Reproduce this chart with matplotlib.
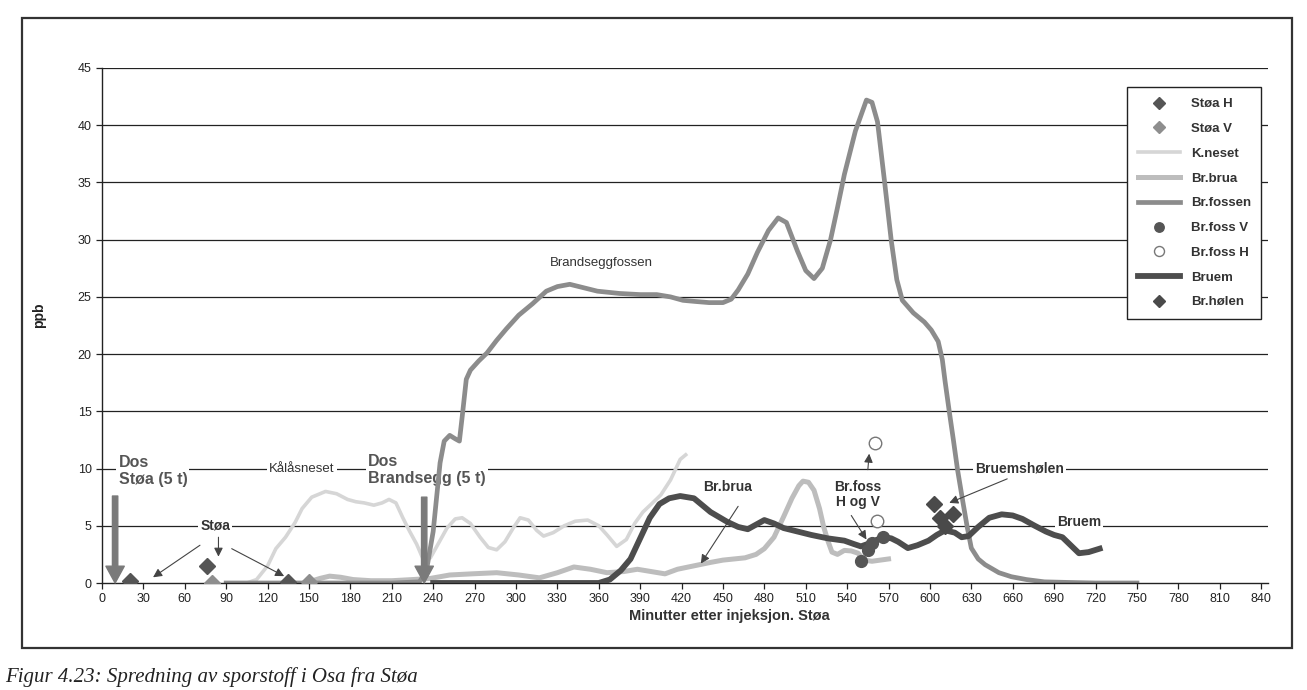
import matplotlib
matplotlib.use("Agg")
import matplotlib.pyplot as plt
from matplotlib.patches import Rectangle

plt.rcParams['font.family'] = ['Liberation Sans', 'DejaVu Sans']

# Tracer concentrations (ppb) against minutes after injection at Støa
stoa_h_t = [20, 76, 135]
stoa_h_ppb = [0.2, 1.5, 0.1]
stoa_v_t = [80, 150]
stoa_v_ppb = [0.0, 0.1]

kneset_t = [105, 112, 120, 126, 133, 140, 145, 152, 162, 170, 178, 184, 190, 197,
            203, 208, 213, 218, 223, 228, 233, 238, 244, 250, 256, 261, 267, 274,
            280, 286, 292, 298, 303, 309, 315, 320, 327, 335, 343, 352, 360, 366,
            373, 380, 386, 392, 399, 405, 412, 419, 423]
kneset_ppb = [0, 0.3, 1.5, 3.0, 4.0, 5.3, 6.5, 7.5, 8.0, 7.8, 7.3, 7.1, 7.0, 6.8,
              7.0, 7.3, 7.0, 5.7, 4.5, 3.4, 2.0, 2.2, 3.5, 4.8, 5.6, 5.7, 5.2, 4.0,
              3.1, 2.9, 3.6, 4.8, 5.7, 5.5, 4.6, 4.1, 4.4, 5.0, 5.4, 5.5, 5.0, 4.2,
              3.2, 3.8, 5.2, 6.2, 7.0, 7.7, 9.0, 10.8, 11.2]

brua_t = [150, 158, 165, 173, 182, 195, 210, 225, 238, 252, 268, 286, 302, 317,
          330, 342, 354, 366, 378, 388, 398, 408, 417, 429, 441, 450, 458, 466,
          474, 480, 487, 494, 500, 505, 508, 512, 516, 520, 523, 526, 529, 533,
          538, 543, 548, 552, 558, 564, 570]
brua_ppb = [0.1, 0.4, 0.6, 0.5, 0.3, 0.2, 0.2, 0.3, 0.4, 0.7, 0.8, 0.9, 0.7, 0.45,
            0.9, 1.4, 1.2, 0.9, 1.0, 1.2, 1.0, 0.8, 1.2, 1.5, 1.8, 2.0, 2.1, 2.2,
            2.5, 3.0, 4.0, 5.8, 7.4, 8.5, 8.9, 8.8, 8.1, 6.5, 4.9, 3.7, 2.7, 2.5,
            2.85, 2.8, 2.6, 2.0, 1.9, 2.0, 2.1]

fossen_t = [90, 120, 150, 180, 210, 230, 235, 240, 245, 248, 252, 256, 259, 261,
            264, 267, 273, 279, 286, 293, 302, 312, 322, 330, 339, 349, 359, 375,
            390, 402, 412, 421, 430, 440, 450, 456, 461, 468, 475, 483, 490, 496,
            504, 510, 516, 522, 528, 533, 538, 546, 554, 558, 562, 567, 572, 576,
            580, 588, 596, 601, 606, 609, 611, 614, 617, 620, 624, 627, 630, 635,
            640, 650, 659, 670, 683, 700, 720, 750]
fossen_ppb = [0, 0, 0, 0, 0, 0.1, 1.0, 4.5, 10.5, 12.4, 12.9, 12.6, 12.4, 14.5,
              17.8, 18.6, 19.4, 20.1, 21.2, 22.2, 23.4, 24.4, 25.5, 25.9, 26.1,
              25.8, 25.5, 25.3, 25.2, 25.2, 25.0, 24.7, 24.6, 24.5, 24.5, 24.8,
              25.6, 27.0, 28.9, 30.8, 31.9, 31.5, 29.0, 27.3, 26.6, 27.5, 30.0,
              32.8, 35.7, 39.5, 42.2, 42.0, 40.3, 35.2, 29.9, 26.5, 24.7, 23.6,
              22.8, 22.1, 21.1, 19.5, 17.6, 15.0, 12.5, 9.9, 7.0, 4.9, 3.05, 2.1,
              1.6, 0.9, 0.55, 0.3, 0.1, 0.05, 0, 0]

foss_v_t = [550, 555, 558, 566]
foss_v_ppb = [1.9, 2.9, 3.5, 4.0]
foss_h_t = [560, 562]
foss_h_ppb = [12.2, 5.4]

bruem_t = [240, 300, 360, 368, 376, 383, 390, 397, 404, 411, 419, 429, 441, 453,
           461, 468, 474, 480, 487, 494, 504, 514, 526, 538, 545, 550, 557, 562,
           567, 572, 577, 584, 591, 599, 605, 611, 618, 623, 628, 635, 643, 652,
           660, 667, 676, 684, 690, 696, 702, 708, 715, 723]
bruem_ppb = [0, 0, 0, 0.3, 1.1, 2.1, 3.9, 5.7, 6.9, 7.4, 7.6, 7.4, 6.2, 5.35,
             4.9, 4.7, 5.1, 5.5, 5.2, 4.8, 4.5, 4.2, 3.9, 3.7, 3.4, 3.2, 3.5, 3.8,
             4.0, 3.9, 3.6, 3.05, 3.3, 3.7, 4.2, 4.6, 4.4, 4.0, 4.1, 4.9, 5.7, 6.0,
             5.9, 5.6, 5.0, 4.5, 4.2, 4.0, 3.3, 2.6, 2.7, 3.0]

holen_t = [603, 607, 611, 617]
holen_ppb = [6.9, 5.7, 5.0, 6.0]

x_ticks = list(range(0, 841, 30))
y_ticks = list(range(0, 46, 5))

fig = plt.figure(figsize=(13.07, 6.9), dpi=100)
ax = fig.add_axes([102 / 1307, 1 - 583 / 690, 1166 / 1307, 515 / 690])

for y in y_ticks[1:]:
    ax.axhline(y, color='#222222', lw=0.9, zorder=0.5)

# series
ax.plot(kneset_t, kneset_ppb, color='#d6d6d6', lw=2.6, zorder=2, label='K.neset')
ax.plot(brua_t, brua_ppb, color='#bdbdbd', lw=3.6, zorder=2.2, label='Br.brua')
ax.plot(fossen_t, fossen_ppb, color='#8c8c8c', lw=3.4, zorder=2.4, label='Br.fossen')
ax.plot(bruem_t, bruem_ppb, color='#4d4d4d', lw=4.2, zorder=2.6, label='Bruem')
ax.plot(stoa_h_t, stoa_h_ppb, 'D', color='#555555', ms=8, zorder=3, label='Støa H')
ax.plot(stoa_v_t, stoa_v_ppb, 'D', color='#8e8e8e', ms=8, zorder=3, label='Støa V')
ax.plot(foss_v_t, foss_v_ppb, 'o', color='#555555', ms=8.5, zorder=3, label='Br.foss V')
ax.plot(foss_h_t, foss_h_ppb, 'o', mfc='white', mec='#777777', mew=1.0, ms=9,
        zorder=3, label='Br.foss H')
ax.plot(holen_t, holen_ppb, 'D', color='#4a4a4a', ms=8, zorder=3, label='Br.hølen')

ax.set_xlim(0, 845)
ax.set_ylim(0, 45)
ax.set_xticks(x_ticks)
ax.set_yticks(y_ticks)
ax.tick_params(axis='both', direction='out', length=4, width=0.9,
               labelsize=9, colors='#222222')
for s in ['top', 'right']:
    ax.spines[s].set_visible(False)
for s in ['left', 'bottom']:
    ax.spines[s].set_color('#222222')
    ax.spines[s].set_linewidth(1.0)

ax.set_ylabel('ppb', fontsize=10, fontweight='bold', color='#222222')
ax.yaxis.set_label_coords(-0.048, 0.52)
ax.set_xlabel('Minutter etter injeksjon. Støa', fontsize=10.5, fontweight='bold',
              color='#333333')
ax.xaxis.set_label_coords(0.538, -0.05)

# text labels on the curves
box = dict(facecolor='white', edgecolor='none', pad=1.5)
lab = dict(color='#333333', zorder=1.5, bbox=box, ha='center', va='center')
ax.text(12, 9.8, 'Dos\nStøa (5 t)', fontsize=11.5, fontweight='bold', color='#555555',
        va='center', ha='left', linespacing=1.2, zorder=1.5, bbox=box)
ax.text(193, 9.9, 'Dos\nBrandsegg (5 t)', fontsize=11.5, fontweight='bold',
        color='#555555', va='center', ha='left', linespacing=1.2, zorder=1.5, bbox=box)
ax.text(145, 10.0, 'Kålåsneset', fontsize=9.5, **lab)
ax.text(82, 5.0, 'Støa', fontsize=10, fontweight='bold', **lab)
ax.text(362, 28.0, 'Brandseggfossen', fontsize=9.5, **lab)
ax.text(453, 8.4, 'Br.brua', fontsize=10, fontweight='bold', **lab)
ax.text(548, 7.7, 'Br.foss\nH og V', fontsize=10, fontweight='bold',
        linespacing=1.1, **lab)
ax.text(665, 10.0, 'Bruemshølen', fontsize=10, fontweight='bold', **lab)
ax.text(708, 5.3, 'Bruem', fontsize=10, fontweight='bold', **lab)

# dosing arrows
big = dict(arrowstyle='simple,head_length=1.1,head_width=1.2,tail_width=0.35',
           color='#7a7a7a', mutation_scale=11, shrinkA=0, shrinkB=0)
ax.annotate('', xy=(9.5, 0), xytext=(9.5, 7.6), arrowprops=big, zorder=4)
ax.annotate('', xy=(233.5, 0), xytext=(233.5, 7.5), arrowprops=big, zorder=4)

# pointer arrows
thin = dict(arrowstyle='-|>', color='#444444', lw=0.8, mutation_scale=13,
            shrinkA=0, shrinkB=0)
pointers = [((71, 3.3), (37, 0.5)), ((84.4, 4.0), (84.4, 2.3)),
            ((94, 3.0), (132, 0.6)), ((461, 6.7), (434, 1.7)),
            ((555, 9.9), (556, 11.3)), ((543, 5.9), (554, 3.8)),
            ((656, 9.1), (614, 7.0))]
for tail, tip in pointers:
    ax.annotate('', xy=tip, xytext=tail, arrowprops=thin, zorder=4)

# legend in the requested entry order
handles, labels = ax.get_legend_handles_labels()
order = ['Støa H', 'Støa V', 'K.neset', 'Br.brua', 'Br.fossen', 'Br.foss V',
         'Br.foss H', 'Bruem', 'Br.hølen']
hmap = dict(zip(labels, handles))
leg = ax.legend([hmap[k] for k in order], order, loc='upper right',
                bbox_to_anchor=(1.0, 0.975), frameon=True,
                fancybox=False, edgecolor='#222222', framealpha=1,
                handlelength=3.2, labelspacing=0.95, borderpad=0.8,
                markerscale=0.8, prop={'weight': 'bold', 'size': 9.5})
leg.get_frame().set_linewidth(1.0)
for t in leg.get_texts():
    t.set_color('#333333')
leg.set_zorder(5)

# page frame and caption
fig.patches.append(Rectangle((22 / 1307, 1 - 648 / 690), 1270 / 1307, 630 / 690,
                             transform=fig.transFigure, fill=False,
                             edgecolor='#333333', lw=1.6))
fig.text(5 / 1307, 1 - 682 / 690, 'Figur 4.23: Spredning av sporstoff i Osa fra Støa',
         family=['Liberation Serif', 'DejaVu Serif'], style='italic', fontsize=15,
         color='#222222', va='baseline', ha='left')

fig.savefig('out.png', dpi=100)
